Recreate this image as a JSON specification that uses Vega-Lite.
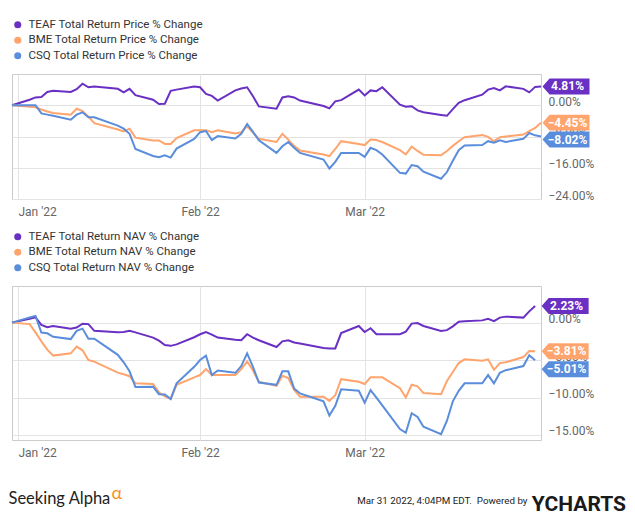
{
  "$schema": "https://vega.github.io/schema/vega-lite/v6.json",
  "background": "white",
  "padding": {"left": 7, "top": 18, "right": 0, "bottom": 0},
  "spacing": 12,
  "datasets": {
    "price": [
      {"d":"2021-12-31","s":"TEAF","v":0},{"d":"2022-01-03","s":"TEAF","v":1.4},{"d":"2022-01-04","s":"TEAF","v":2.0},{"d":"2022-01-05","s":"TEAF","v":2.1},{"d":"2022-01-06","s":"TEAF","v":3.4},{"d":"2022-01-07","s":"TEAF","v":3.7},{"d":"2022-01-10","s":"TEAF","v":3.4},{"d":"2022-01-11","s":"TEAF","v":4.1},{"d":"2022-01-12","s":"TEAF","v":5.5},{"d":"2022-01-13","s":"TEAF","v":4.6},{"d":"2022-01-14","s":"TEAF","v":4.8},{"d":"2022-01-18","s":"TEAF","v":4.2},{"d":"2022-01-19","s":"TEAF","v":3.3},{"d":"2022-01-20","s":"TEAF","v":4.2},{"d":"2022-01-21","s":"TEAF","v":2.6},{"d":"2022-01-24","s":"TEAF","v":1.4},{"d":"2022-01-25","s":"TEAF","v":0.3},{"d":"2022-01-26","s":"TEAF","v":0.4},{"d":"2022-01-27","s":"TEAF","v":3.7},{"d":"2022-01-28","s":"TEAF","v":4.0},{"d":"2022-01-31","s":"TEAF","v":4.8},
      {"d":"2022-02-01","s":"TEAF","v":4.6},{"d":"2022-02-02","s":"TEAF","v":2.9},{"d":"2022-02-03","s":"TEAF","v":2.4},{"d":"2022-02-04","s":"TEAF","v":1.2},{"d":"2022-02-07","s":"TEAF","v":3.8},{"d":"2022-02-08","s":"TEAF","v":4.3},{"d":"2022-02-09","s":"TEAF","v":4.6},{"d":"2022-02-10","s":"TEAF","v":2.3},{"d":"2022-02-11","s":"TEAF","v":-0.3},{"d":"2022-02-14","s":"TEAF","v":-0.9},{"d":"2022-02-15","s":"TEAF","v":2.0},{"d":"2022-02-16","s":"TEAF","v":2.3},{"d":"2022-02-17","s":"TEAF","v":2.0},{"d":"2022-02-18","s":"TEAF","v":1.2},{"d":"2022-02-22","s":"TEAF","v":-0.2},{"d":"2022-02-23","s":"TEAF","v":-0.8},{"d":"2022-02-24","s":"TEAF","v":1.0},{"d":"2022-02-25","s":"TEAF","v":1.3},{"d":"2022-02-28","s":"TEAF","v":4.0},
      {"d":"2022-03-01","s":"TEAF","v":2.5},{"d":"2022-03-02","s":"TEAF","v":3.8},{"d":"2022-03-03","s":"TEAF","v":3.6},{"d":"2022-03-04","s":"TEAF","v":4.6},{"d":"2022-03-07","s":"TEAF","v":0.15},{"d":"2022-03-08","s":"TEAF","v":-0.4},{"d":"2022-03-09","s":"TEAF","v":-0.25},{"d":"2022-03-10","s":"TEAF","v":-1.3},{"d":"2022-03-11","s":"TEAF","v":-1.8},{"d":"2022-03-14","s":"TEAF","v":-2.5},{"d":"2022-03-15","s":"TEAF","v":-2.7},{"d":"2022-03-16","s":"TEAF","v":-1.0},{"d":"2022-03-17","s":"TEAF","v":0.6},{"d":"2022-03-18","s":"TEAF","v":1.3},{"d":"2022-03-21","s":"TEAF","v":2.7},{"d":"2022-03-22","s":"TEAF","v":4.0},{"d":"2022-03-23","s":"TEAF","v":4.4},{"d":"2022-03-24","s":"TEAF","v":3.8},{"d":"2022-03-25","s":"TEAF","v":4.85},{"d":"2022-03-28","s":"TEAF","v":4.2},{"d":"2022-03-29","s":"TEAF","v":3.3},{"d":"2022-03-30","s":"TEAF","v":4.7},{"d":"2022-03-31","s":"TEAF","v":4.81},
      {"d":"2021-12-31","s":"BME","v":0},{"d":"2022-01-03","s":"BME","v":-0.4},{"d":"2022-01-04","s":"BME","v":-0.5},{"d":"2022-01-05","s":"BME","v":-1.1},{"d":"2022-01-06","s":"BME","v":-1.6},{"d":"2022-01-07","s":"BME","v":-2.0},{"d":"2022-01-10","s":"BME","v":-2.4},{"d":"2022-01-11","s":"BME","v":-0.9},{"d":"2022-01-12","s":"BME","v":-1.5},{"d":"2022-01-13","s":"BME","v":-2.9},{"d":"2022-01-14","s":"BME","v":-4.6},{"d":"2022-01-18","s":"BME","v":-6.2},{"d":"2022-01-19","s":"BME","v":-6.7},{"d":"2022-01-20","s":"BME","v":-6.0},{"d":"2022-01-21","s":"BME","v":-8.3},{"d":"2022-01-24","s":"BME","v":-9.0},{"d":"2022-01-25","s":"BME","v":-9.0},{"d":"2022-01-26","s":"BME","v":-9.9},{"d":"2022-01-27","s":"BME","v":-9.9},{"d":"2022-01-28","s":"BME","v":-8.4},{"d":"2022-01-31","s":"BME","v":-6.4},
      {"d":"2022-02-01","s":"BME","v":-6.4},{"d":"2022-02-02","s":"BME","v":-6.4},{"d":"2022-02-03","s":"BME","v":-6.9},{"d":"2022-02-04","s":"BME","v":-6.4},{"d":"2022-02-07","s":"BME","v":-7.2},{"d":"2022-02-08","s":"BME","v":-6.9},{"d":"2022-02-09","s":"BME","v":-5.4},{"d":"2022-02-10","s":"BME","v":-7.0},{"d":"2022-02-11","s":"BME","v":-8.6},{"d":"2022-02-14","s":"BME","v":-9.4},{"d":"2022-02-15","s":"BME","v":-7.3},{"d":"2022-02-16","s":"BME","v":-8.8},{"d":"2022-02-17","s":"BME","v":-10.4},{"d":"2022-02-18","s":"BME","v":-11.6},{"d":"2022-02-22","s":"BME","v":-12.6},{"d":"2022-02-23","s":"BME","v":-13.0},{"d":"2022-02-24","s":"BME","v":-11.2},{"d":"2022-02-25","s":"BME","v":-9.2},{"d":"2022-02-28","s":"BME","v":-9.9},
      {"d":"2022-03-01","s":"BME","v":-10.2},{"d":"2022-03-02","s":"BME","v":-8.8},{"d":"2022-03-03","s":"BME","v":-8.9},{"d":"2022-03-04","s":"BME","v":-9.4},{"d":"2022-03-07","s":"BME","v":-11.5},{"d":"2022-03-08","s":"BME","v":-12.6},{"d":"2022-03-09","s":"BME","v":-10.6},{"d":"2022-03-10","s":"BME","v":-11.7},{"d":"2022-03-11","s":"BME","v":-12.7},{"d":"2022-03-14","s":"BME","v":-12.8},{"d":"2022-03-15","s":"BME","v":-11.7},{"d":"2022-03-16","s":"BME","v":-10.4},{"d":"2022-03-17","s":"BME","v":-9.2},{"d":"2022-03-18","s":"BME","v":-8.2},{"d":"2022-03-21","s":"BME","v":-7.6},{"d":"2022-03-22","s":"BME","v":-8.1},{"d":"2022-03-23","s":"BME","v":-9.2},{"d":"2022-03-24","s":"BME","v":-8.2},{"d":"2022-03-25","s":"BME","v":-8.0},{"d":"2022-03-28","s":"BME","v":-7.5},{"d":"2022-03-29","s":"BME","v":-6.6},{"d":"2022-03-30","s":"BME","v":-5.8},{"d":"2022-03-31","s":"BME","v":-4.45},
      {"d":"2021-12-31","s":"CSQ","v":0},{"d":"2022-01-03","s":"CSQ","v":0},{"d":"2022-01-04","s":"CSQ","v":0},{"d":"2022-01-05","s":"CSQ","v":-2.1},{"d":"2022-01-06","s":"CSQ","v":-2.4},{"d":"2022-01-07","s":"CSQ","v":-2.7},{"d":"2022-01-10","s":"CSQ","v":-3.7},{"d":"2022-01-11","s":"CSQ","v":-2.4},{"d":"2022-01-12","s":"CSQ","v":-1.8},{"d":"2022-01-13","s":"CSQ","v":-3.1},{"d":"2022-01-14","s":"CSQ","v":-3.1},{"d":"2022-01-18","s":"CSQ","v":-5.2},{"d":"2022-01-19","s":"CSQ","v":-6.0},{"d":"2022-01-20","s":"CSQ","v":-7.3},{"d":"2022-01-21","s":"CSQ","v":-11.2},{"d":"2022-01-24","s":"CSQ","v":-13.0},{"d":"2022-01-25","s":"CSQ","v":-13.3},{"d":"2022-01-26","s":"CSQ","v":-12.8},{"d":"2022-01-27","s":"CSQ","v":-13.4},{"d":"2022-01-28","s":"CSQ","v":-11.1},{"d":"2022-01-31","s":"CSQ","v":-8.6},
      {"d":"2022-02-01","s":"CSQ","v":-6.9},{"d":"2022-02-02","s":"CSQ","v":-6.6},{"d":"2022-02-03","s":"CSQ","v":-8.9},{"d":"2022-02-04","s":"CSQ","v":-7.9},{"d":"2022-02-07","s":"CSQ","v":-8.5},{"d":"2022-02-08","s":"CSQ","v":-7.3},{"d":"2022-02-09","s":"CSQ","v":-4.8},{"d":"2022-02-10","s":"CSQ","v":-6.8},{"d":"2022-02-11","s":"CSQ","v":-9.0},{"d":"2022-02-14","s":"CSQ","v":-12.2},{"d":"2022-02-15","s":"CSQ","v":-10.5},{"d":"2022-02-16","s":"CSQ","v":-9.4},{"d":"2022-02-17","s":"CSQ","v":-10.9},{"d":"2022-02-18","s":"CSQ","v":-12.2},{"d":"2022-02-22","s":"CSQ","v":-13.9},{"d":"2022-02-23","s":"CSQ","v":-16.2},{"d":"2022-02-24","s":"CSQ","v":-14.5},{"d":"2022-02-25","s":"CSQ","v":-12.2},{"d":"2022-02-28","s":"CSQ","v":-12.2},
      {"d":"2022-03-01","s":"CSQ","v":-13.2},{"d":"2022-03-02","s":"CSQ","v":-10.9},{"d":"2022-03-03","s":"CSQ","v":-11.5},{"d":"2022-03-04","s":"CSQ","v":-12.6},{"d":"2022-03-07","s":"CSQ","v":-17.3},{"d":"2022-03-08","s":"CSQ","v":-17.5},{"d":"2022-03-09","s":"CSQ","v":-15.3},{"d":"2022-03-10","s":"CSQ","v":-15.6},{"d":"2022-03-11","s":"CSQ","v":-17.0},{"d":"2022-03-14","s":"CSQ","v":-18.8},{"d":"2022-03-15","s":"CSQ","v":-17.1},{"d":"2022-03-16","s":"CSQ","v":-14.2},{"d":"2022-03-17","s":"CSQ","v":-11.5},{"d":"2022-03-18","s":"CSQ","v":-10.3},{"d":"2022-03-21","s":"CSQ","v":-10.2},{"d":"2022-03-22","s":"CSQ","v":-9.2},{"d":"2022-03-23","s":"CSQ","v":-9.6},{"d":"2022-03-24","s":"CSQ","v":-9.0},{"d":"2022-03-25","s":"CSQ","v":-9.4},{"d":"2022-03-28","s":"CSQ","v":-8.6},{"d":"2022-03-29","s":"CSQ","v":-7.1},{"d":"2022-03-30","s":"CSQ","v":-7.7},{"d":"2022-03-31","s":"CSQ","v":-8.02}
    ],
    "nav": [
      {"d":"2021-12-31","s":"TEAF","v":0},{"d":"2022-01-03","s":"TEAF","v":0.5},{"d":"2022-01-04","s":"TEAF","v":0.7},{"d":"2022-01-05","s":"TEAF","v":-0.3},{"d":"2022-01-06","s":"TEAF","v":-0.6},{"d":"2022-01-07","s":"TEAF","v":-0.45},{"d":"2022-01-10","s":"TEAF","v":-0.8},{"d":"2022-01-11","s":"TEAF","v":-0.65},{"d":"2022-01-12","s":"TEAF","v":-0.15},{"d":"2022-01-13","s":"TEAF","v":-0.2},{"d":"2022-01-14","s":"TEAF","v":-1.1},{"d":"2022-01-18","s":"TEAF","v":-1.3},{"d":"2022-01-19","s":"TEAF","v":-1.25},{"d":"2022-01-20","s":"TEAF","v":-1.1},{"d":"2022-01-21","s":"TEAF","v":-1.3},{"d":"2022-01-24","s":"TEAF","v":-2.0},{"d":"2022-01-25","s":"TEAF","v":-2.4},{"d":"2022-01-26","s":"TEAF","v":-3.0},{"d":"2022-01-27","s":"TEAF","v":-3.1},{"d":"2022-01-28","s":"TEAF","v":-2.9},{"d":"2022-01-31","s":"TEAF","v":-1.95},
      {"d":"2022-02-01","s":"TEAF","v":-1.55},{"d":"2022-02-02","s":"TEAF","v":-1.25},{"d":"2022-02-03","s":"TEAF","v":-1.6},{"d":"2022-02-04","s":"TEAF","v":-2.0},{"d":"2022-02-07","s":"TEAF","v":-2.3},{"d":"2022-02-08","s":"TEAF","v":-2.35},{"d":"2022-02-09","s":"TEAF","v":-1.55},{"d":"2022-02-10","s":"TEAF","v":-2.0},{"d":"2022-02-11","s":"TEAF","v":-2.35},{"d":"2022-02-14","s":"TEAF","v":-3.25},{"d":"2022-02-15","s":"TEAF","v":-2.5},{"d":"2022-02-16","s":"TEAF","v":-2.35},{"d":"2022-02-17","s":"TEAF","v":-2.65},{"d":"2022-02-18","s":"TEAF","v":-2.8},{"d":"2022-02-22","s":"TEAF","v":-3.4},{"d":"2022-02-23","s":"TEAF","v":-3.45},{"d":"2022-02-24","s":"TEAF","v":-3.45},{"d":"2022-02-25","s":"TEAF","v":-1.4},{"d":"2022-02-28","s":"TEAF","v":-0.45},
      {"d":"2022-03-01","s":"TEAF","v":-1.25},{"d":"2022-03-02","s":"TEAF","v":-0.75},{"d":"2022-03-03","s":"TEAF","v":-1.55},{"d":"2022-03-04","s":"TEAF","v":-1.55},{"d":"2022-03-07","s":"TEAF","v":-1.55},{"d":"2022-03-08","s":"TEAF","v":-1.2},{"d":"2022-03-09","s":"TEAF","v":-0.13},{"d":"2022-03-10","s":"TEAF","v":-0.05},{"d":"2022-03-11","s":"TEAF","v":-0.45},{"d":"2022-03-14","s":"TEAF","v":-1.1},{"d":"2022-03-15","s":"TEAF","v":-1.0},{"d":"2022-03-16","s":"TEAF","v":-0.5},{"d":"2022-03-17","s":"TEAF","v":0.13},{"d":"2022-03-18","s":"TEAF","v":0.17},{"d":"2022-03-21","s":"TEAF","v":0.3},{"d":"2022-03-22","s":"TEAF","v":0.5},{"d":"2022-03-23","s":"TEAF","v":0.2},{"d":"2022-03-24","s":"TEAF","v":0.67},{"d":"2022-03-25","s":"TEAF","v":0.8},{"d":"2022-03-28","s":"TEAF","v":0.67},{"d":"2022-03-29","s":"TEAF","v":1.5},{"d":"2022-03-30","s":"TEAF","v":2.23},
      {"d":"2021-12-31","s":"BME","v":0},{"d":"2022-01-03","s":"BME","v":-0.2},{"d":"2022-01-04","s":"BME","v":-1.3},{"d":"2022-01-05","s":"BME","v":-2.5},{"d":"2022-01-06","s":"BME","v":-3.6},{"d":"2022-01-07","s":"BME","v":-4.4},{"d":"2022-01-10","s":"BME","v":-4.1},{"d":"2022-01-11","s":"BME","v":-3.2},{"d":"2022-01-12","s":"BME","v":-3.7},{"d":"2022-01-13","s":"BME","v":-5.0},{"d":"2022-01-14","s":"BME","v":-5.2},{"d":"2022-01-18","s":"BME","v":-6.67},{"d":"2022-01-19","s":"BME","v":-6.9},{"d":"2022-01-20","s":"BME","v":-7.15},{"d":"2022-01-21","s":"BME","v":-8.1},{"d":"2022-01-24","s":"BME","v":-8.2},{"d":"2022-01-25","s":"BME","v":-9.3},{"d":"2022-01-26","s":"BME","v":-9.85},{"d":"2022-01-27","s":"BME","v":-10.15},{"d":"2022-01-28","s":"BME","v":-8.3},{"d":"2022-01-31","s":"BME","v":-7.3},
      {"d":"2022-02-01","s":"BME","v":-7.0},{"d":"2022-02-02","s":"BME","v":-6.2},{"d":"2022-02-03","s":"BME","v":-7.0},{"d":"2022-02-04","s":"BME","v":-7.0},{"d":"2022-02-07","s":"BME","v":-7.0},{"d":"2022-02-08","s":"BME","v":-6.2},{"d":"2022-02-09","s":"BME","v":-5.2},{"d":"2022-02-10","s":"BME","v":-6.4},{"d":"2022-02-11","s":"BME","v":-7.9},{"d":"2022-02-14","s":"BME","v":-8.45},{"d":"2022-02-15","s":"BME","v":-7.1},{"d":"2022-02-16","s":"BME","v":-7.4},{"d":"2022-02-17","s":"BME","v":-9.0},{"d":"2022-02-18","s":"BME","v":-9.9},{"d":"2022-02-22","s":"BME","v":-9.9},{"d":"2022-02-23","s":"BME","v":-10.45},{"d":"2022-02-24","s":"BME","v":-9.7},{"d":"2022-02-25","s":"BME","v":-7.55},{"d":"2022-02-28","s":"BME","v":-7.9},
      {"d":"2022-03-01","s":"BME","v":-8.2},{"d":"2022-03-02","s":"BME","v":-7.3},{"d":"2022-03-03","s":"BME","v":-7.3},{"d":"2022-03-04","s":"BME","v":-7.3},{"d":"2022-03-07","s":"BME","v":-8.75},{"d":"2022-03-08","s":"BME","v":-10.0},{"d":"2022-03-09","s":"BME","v":-8.3},{"d":"2022-03-10","s":"BME","v":-8.5},{"d":"2022-03-11","s":"BME","v":-9.4},{"d":"2022-03-14","s":"BME","v":-9.55},{"d":"2022-03-15","s":"BME","v":-7.8},{"d":"2022-03-16","s":"BME","v":-6.6},{"d":"2022-03-17","s":"BME","v":-5.4},{"d":"2022-03-18","s":"BME","v":-4.9},{"d":"2022-03-21","s":"BME","v":-5.1},{"d":"2022-03-22","s":"BME","v":-4.9},{"d":"2022-03-23","s":"BME","v":-6.3},{"d":"2022-03-24","s":"BME","v":-5.4},{"d":"2022-03-25","s":"BME","v":-5.3},{"d":"2022-03-28","s":"BME","v":-4.6},{"d":"2022-03-29","s":"BME","v":-3.8},{"d":"2022-03-30","s":"BME","v":-3.81},
      {"d":"2021-12-31","s":"CSQ","v":0},{"d":"2022-01-03","s":"CSQ","v":0.7},{"d":"2022-01-04","s":"CSQ","v":0.9},{"d":"2022-01-05","s":"CSQ","v":-1.33},{"d":"2022-01-06","s":"CSQ","v":-1.43},{"d":"2022-01-07","s":"CSQ","v":-1.9},{"d":"2022-01-10","s":"CSQ","v":-2.2},{"d":"2022-01-11","s":"CSQ","v":-1.1},{"d":"2022-01-12","s":"CSQ","v":-0.8},{"d":"2022-01-13","s":"CSQ","v":-2.15},{"d":"2022-01-14","s":"CSQ","v":-2.15},{"d":"2022-01-18","s":"CSQ","v":-4.3},{"d":"2022-01-19","s":"CSQ","v":-5.3},{"d":"2022-01-20","s":"CSQ","v":-6.5},{"d":"2022-01-21","s":"CSQ","v":-8.6},{"d":"2022-01-24","s":"CSQ","v":-8.55},{"d":"2022-01-25","s":"CSQ","v":-9.55},{"d":"2022-01-26","s":"CSQ","v":-9.6},{"d":"2022-01-27","s":"CSQ","v":-10.2},{"d":"2022-01-28","s":"CSQ","v":-8.1},{"d":"2022-01-31","s":"CSQ","v":-5.9},
      {"d":"2022-02-01","s":"CSQ","v":-5.0},{"d":"2022-02-02","s":"CSQ","v":-4.4},{"d":"2022-02-03","s":"CSQ","v":-7.0},{"d":"2022-02-04","s":"CSQ","v":-6.4},{"d":"2022-02-07","s":"CSQ","v":-6.7},{"d":"2022-02-08","s":"CSQ","v":-5.8},{"d":"2022-02-09","s":"CSQ","v":-4.1},{"d":"2022-02-10","s":"CSQ","v":-5.9},{"d":"2022-02-11","s":"CSQ","v":-8.0},{"d":"2022-02-14","s":"CSQ","v":-8.3},{"d":"2022-02-15","s":"CSQ","v":-6.5},{"d":"2022-02-16","s":"CSQ","v":-6.5},{"d":"2022-02-17","s":"CSQ","v":-8.8},{"d":"2022-02-18","s":"CSQ","v":-9.45},{"d":"2022-02-22","s":"CSQ","v":-10.5},{"d":"2022-02-23","s":"CSQ","v":-12.4},{"d":"2022-02-24","s":"CSQ","v":-11.1},{"d":"2022-02-25","s":"CSQ","v":-8.9},{"d":"2022-02-28","s":"CSQ","v":-9.1},
      {"d":"2022-03-01","s":"CSQ","v":-10.7},{"d":"2022-03-02","s":"CSQ","v":-9.0},{"d":"2022-03-03","s":"CSQ","v":-10.0},{"d":"2022-03-04","s":"CSQ","v":-11.05},{"d":"2022-03-07","s":"CSQ","v":-14.2},{"d":"2022-03-08","s":"CSQ","v":-14.7},{"d":"2022-03-09","s":"CSQ","v":-12.1},{"d":"2022-03-10","s":"CSQ","v":-12.6},{"d":"2022-03-11","s":"CSQ","v":-13.9},{"d":"2022-03-14","s":"CSQ","v":-14.9},{"d":"2022-03-15","s":"CSQ","v":-13.1},{"d":"2022-03-16","s":"CSQ","v":-10.5},{"d":"2022-03-17","s":"CSQ","v":-9.1},{"d":"2022-03-18","s":"CSQ","v":-8.1},{"d":"2022-03-21","s":"CSQ","v":-8.1},{"d":"2022-03-22","s":"CSQ","v":-7.0},{"d":"2022-03-23","s":"CSQ","v":-8.1},{"d":"2022-03-24","s":"CSQ","v":-6.7},{"d":"2022-03-25","s":"CSQ","v":-6.35},{"d":"2022-03-28","s":"CSQ","v":-5.8},{"d":"2022-03-29","s":"CSQ","v":-4.35},{"d":"2022-03-30","s":"CSQ","v":-5.01}
    ]
  },
  "vconcat": [
    {
      "name": "top",
      "width": 529,
      "height": 125,
      "data": {"name": "price"},
      "encoding": {
        "x": {"field": "d", "type": "temporal",
          "scale": {"type": "utc", "domain": [{"year": 2021, "month": 12, "date": 31, "utc": true}, {"year": 2022, "month": 3, "date": 31, "utc": true}]},
          "axis": {"title": null, "values": [{"year": 2022, "month": 1, "date": 1, "utc": true}, {"year": 2022, "month": 2, "date": 1, "utc": true}, {"year": 2022, "month": 3, "date": 1, "utc": true}], "format": "%b '%y", "labelFlush": 10, "labelPadding": 7}},
        "y": {"field": "v", "type": "quantitative",
          "scale": {"domain": [-24, 8], "nice": false, "zero": false},
          "axis": {"title": null, "orient": "right", "values": [-24, -16, -8, 0], "labelExpr": "format(datum.value, '.2f') + '%'", "labelBaseline": "alphabetic", "labelPadding": 7}},
        "color": {"field": "s", "type": "nominal",
          "scale": {"domain": ["TEAF", "BME", "CSQ"], "range": ["#6930c3", "#ffa46c", "#5a8ddb"]},
          "legend": {"labelExpr": "datum.label + ' Total Return Price % Change'",
            "encode": {"symbols": {"update": {"fill": {"scale": "top_color", "field": "value"}, "strokeWidth": {"value": 0}}}}}}
      },
      "layer": [
        {"mark": {"type": "line", "strokeWidth": 2}},
        {"transform": [{"aggregate": [{"op": "argmax", "field": "d", "as": "last"}], "groupby": ["s"]}, {"calculate": "format(datum.last.v, '.2f') + '%'", "as": "lbl"}],
         "layer": [
           {"mark": {"type": "point", "shape": "M -1 0 L -0.7 -0.34 L 1 -0.34 L 1 0.34 L -0.7 0.34 Z", "filled": true, "opacity": 1, "size": 2209, "strokeWidth": 0, "xOffset": 25, "yOffset": {"expr": "datum.s === 'CSQ' ? 3 : 0"}},
            "encoding": {"x": {"field": "last.d", "type": "temporal"}, "y": {"field": "last.v", "type": "quantitative"}}},
           {"mark": {"type": "text", "color": "white", "fontWeight": "bold", "fontSize": 12, "xOffset": 26.5, "yOffset": {"expr": "datum.s === 'CSQ' ? 3 : 0"}, "baseline": "middle"},
            "encoding": {"x": {"field": "last.d", "type": "temporal"}, "y": {"field": "last.v", "type": "quantitative"}, "text": {"field": "lbl"}, "color": {"value": "white"}}}
         ]}
      ]
    },
    {
      "name": "bot",
      "width": 529,
      "height": 154,
      "data": {"name": "nav"},
      "title": {"text": "YCHARTS", "orient": "bottom", "anchor": "end", "frame": "group", "dx": 85, "dy": -13, "offset": 0, "fontSize": 21, "fontWeight": "bold", "color": "#1a1a1a", "font": "Roboto"},
      "encoding": {
        "x": {"field": "d", "type": "temporal",
          "scale": {"type": "utc", "domain": [{"year": 2021, "month": 12, "date": 31, "utc": true}, {"year": 2022, "month": 3, "date": 31, "utc": true}]},
          "axis": {"title": "Mar 31 2022, 4:04PM EDT.\u00a0 Powered by", "titleX": 515, "titleY": 60, "titleAlign": "right", "titleBaseline": "middle", "titleFontSize": 9.8, "titleFont": "Roboto", "titleFontWeight": "normal", "titleColor": "#222222",
            "values": [{"year": 2022, "month": 1, "date": 1, "utc": true}, {"year": 2022, "month": 2, "date": 1, "utc": true}, {"year": 2022, "month": 3, "date": 1, "utc": true}], "format": "%b '%y", "labelFlush": 10, "labelPadding": 7}},
        "y": {"field": "v", "type": "quantitative",
          "scale": {"domain": [-15.67, 4.89], "nice": false, "zero": false},
          "axis": {"orient": "right", "values": [-15, -10, -5, 0], "labelExpr": "format(datum.value, '.2f') + '%'", "labelBaseline": "alphabetic", "labelPadding": 7,
            "title": "Seeking Alpha", "titleX": -533, "titleY": 212, "titleAngle": 0, "titleAlign": "left", "titleBaseline": "middle", "titleFontSize": 16.5, "titleFontWeight": "normal", "titleFont": "Lato", "titleColor": "#222222"}},
        "color": {"field": "s", "type": "nominal",
          "scale": {"domain": ["TEAF", "BME", "CSQ"], "range": ["#6930c3", "#ffa46c", "#5a8ddb"]},
          "legend": {"labelExpr": "datum.label + ' Total Return NAV % Change'",
            "encode": {"symbols": {"update": {"fill": {"scale": "bot_color", "field": "value"}, "strokeWidth": {"value": 0}}}}}}
      },
      "layer": [
        {"mark": {"type": "line", "strokeWidth": 2}},
        {"transform": [{"aggregate": [{"op": "argmax", "field": "d", "as": "last"}], "groupby": ["s"]}, {"calculate": "format(datum.last.v, '.2f') + '%'", "as": "lbl"}],
         "layer": [
           {"mark": {"type": "point", "shape": "M -1 0 L -0.7 -0.34 L 1 -0.34 L 1 0.34 L -0.7 0.34 Z", "filled": true, "opacity": 1, "size": 2209, "strokeWidth": 0, "xOffset": 30, "yOffset": {"expr": "datum.s === 'CSQ' ? 9 : 0"}},
            "encoding": {"x": {"field": "last.d", "type": "temporal"}, "y": {"field": "last.v", "type": "quantitative"}}},
           {"mark": {"type": "text", "color": "white", "fontWeight": "bold", "fontSize": 12, "xOffset": 31.5, "yOffset": {"expr": "datum.s === 'CSQ' ? 9 : 0"}, "baseline": "middle"},
            "encoding": {"x": {"field": "last.d", "type": "temporal"}, "y": {"field": "last.v", "type": "quantitative"}, "text": {"field": "lbl"}, "color": {"value": "white"}}}
         ]}
      ]
    }
  ],
  "resolve": {"scale": {"color": "independent", "x": "independent", "y": "independent"}, "legend": {"color": "independent"}},
  "title": {"text": "α", "orient": "bottom", "anchor": "start", "dx": 104, "dy": -30, "offset": 0, "fontSize": 18, "fontWeight": "normal", "color": "#f7931e", "font": "Lato"},
  "config": {
    "font": "Roboto",
    "view": {"stroke": "#cccccc", "strokeWidth": 1},
    "axis": {"gridColor": "#e3e3e3", "gridWidth": 1, "domain": false, "ticks": false, "labelColor": "#666666", "labelFontSize": 12, "labelFont": "Roboto"},
    "legend": {"orient": "top", "direction": "vertical", "title": null, "symbolType": "circle", "symbolSize": 50, "labelFontSize": 11.5, "labelFont": "Roboto", "labelColor": "#333333", "labelLimit": 400, "rowPadding": 2.5, "offset": 12, "padding": 0, "symbolOffset": 0, "labelOffset": 5}
  }
}
